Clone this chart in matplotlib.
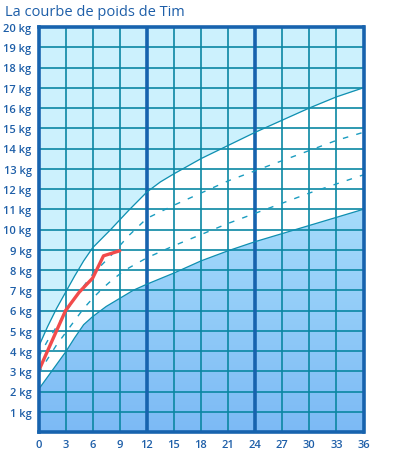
import numpy as np
import matplotlib.pyplot as plt
from matplotlib.colors import LinearSegmentedColormap

upper_months = [0, 1, 2, 3, 4, 5, 6, 8, 10, 12, 13.5, 15, 18, 21, 24, 27, 30, 33, 36]
upper_kg = [4.2, 5.2, 6.1, 6.9, 7.7, 8.45, 9.1, 10.0, 10.95, 11.85, 12.35, 12.75, 13.5, 14.15, 14.8, 15.4, 16.0, 16.55, 17.0]

lower_months = [0, 3, 4, 5, 6, 7.5, 9, 10.5, 12, 15, 18, 21, 24, 27, 30, 33, 36]
lower_kg = [2.1, 3.95, 4.65, 5.3, 5.7, 6.2, 6.6, 7.0, 7.3, 7.85, 8.45, 8.95, 9.4, 9.8, 10.2, 10.6, 11.0]

dash_hi_months = [0, 1, 2, 3, 4, 5, 6, 8, 9, 10, 12, 15, 18, 21, 24, 27, 30, 33, 36]
dash_hi_kg = [3.7, 4.5, 5.2, 5.9, 6.6, 7.2, 7.8, 8.7, 9.2, 9.7, 10.55, 11.2, 11.8, 12.4, 12.9, 13.4, 13.9, 14.4, 14.8]

dash_lo_months = [0, 1, 2, 3, 4, 5, 6, 7, 8, 9, 10, 12, 15, 18, 21, 24, 27, 30, 33, 36]
dash_lo_kg = [2.9, 3.6, 4.3, 4.9, 5.5, 6.1, 6.6, 7.05, 7.45, 7.8, 8.1, 8.6, 9.2, 9.75, 10.3, 10.8, 11.3, 11.8, 12.25, 12.7]

# poids de Tim
tim_months = [0, 3, 4.5, 6, 7.2, 9]
tim_kg = [3.0, 6.0, 6.9, 7.6, 8.7, 8.95]

x_ticks = list(range(0, 37, 3))
y_ticks = list(range(1, 21))
y_labels = [f'{k} kg' for k in y_ticks]

blue_text = '#1d5ea8'
grid_col = '#0b87a3'
bold_col = '#1763ae'

fig = plt.figure(figsize=(3.93, 4.60), dpi=100)
ax = fig.add_axes([38.5 / 393, 1 - 433 / 460, 325 / 393, 405 / 460])
ax.set_xlim(0, 36)
ax.set_ylim(0, 20)

# zone haute (bleu très clair)
xs = np.linspace(0, 36, 400)
up = np.interp(xs, upper_months, upper_kg)
lo = np.interp(xs, lower_months, lower_kg)
ax.fill_between(xs, up, 20, color='#ccf1fd', lw=0, zorder=1)

# zone basse avec dégradé
low_poly = ax.fill_between(xs, 0, lo, color='none', lw=0, zorder=1)
cmap = LinearSegmentedColormap.from_list('bg', ['#7cbaf5', '#a6dcfb'])
grad = np.linspace(0, 1, 256).reshape(-1, 1)
img = ax.imshow(grad, extent=[0, 36, 0, 11.2], origin='lower', cmap=cmap,
                aspect='auto', zorder=1)
img.set_clip_path(low_poly.get_paths()[0], transform=ax.transData)

# quadrillage
for k in y_ticks[:-1]:
    ax.axhline(k, color=grid_col, lw=1.2, zorder=2)
for m in x_ticks[1:-1]:
    if m in (12, 24):
        ax.axvline(m, color=bold_col, lw=2.6, zorder=3)
    else:
        ax.axvline(m, color=grid_col, lw=1.2, zorder=2)

# courbes de référence
ax.plot(upper_months, upper_kg, color='#0f8fb0', lw=0.9, zorder=4)
ax.plot(lower_months, lower_kg, color='#0f8fb0', lw=0.9, zorder=4)
ax.plot(dash_hi_months, dash_hi_kg, color='#1a9cc0', lw=1.0, ls=(0, (4, 6)), zorder=4)
ax.plot(dash_lo_months, dash_lo_kg, color='#1a9cc0', lw=1.0, ls=(0, (4, 6)), zorder=4)

# courbe de Tim
ax.plot(tim_months, tim_kg, color='#f24b4b', lw=2.4, solid_capstyle='round',
        solid_joinstyle='round', zorder=5)

for s in ax.spines.values():
    s.set_color(bold_col)
    s.set_linewidth(2.6)
    s.set_zorder(6)

ax.set_xticks(x_ticks)
ax.set_yticks(y_ticks)
ax.set_yticklabels(y_labels)
ax.tick_params(length=0, labelsize=8, labelcolor=blue_text, pad=5)
for t in ax.get_xticklabels() + ax.get_yticklabels():
    t.set_fontfamily('Open Sans')
    t.set_fontweight('semibold')

fig.text(5 / 393, 1 - 12 / 460, 'La courbe de poids de Tim', color=blue_text,
         fontsize=10.5, family='Open Sans', ha='left', va='center')

fig.savefig('out.png', dpi=100)
